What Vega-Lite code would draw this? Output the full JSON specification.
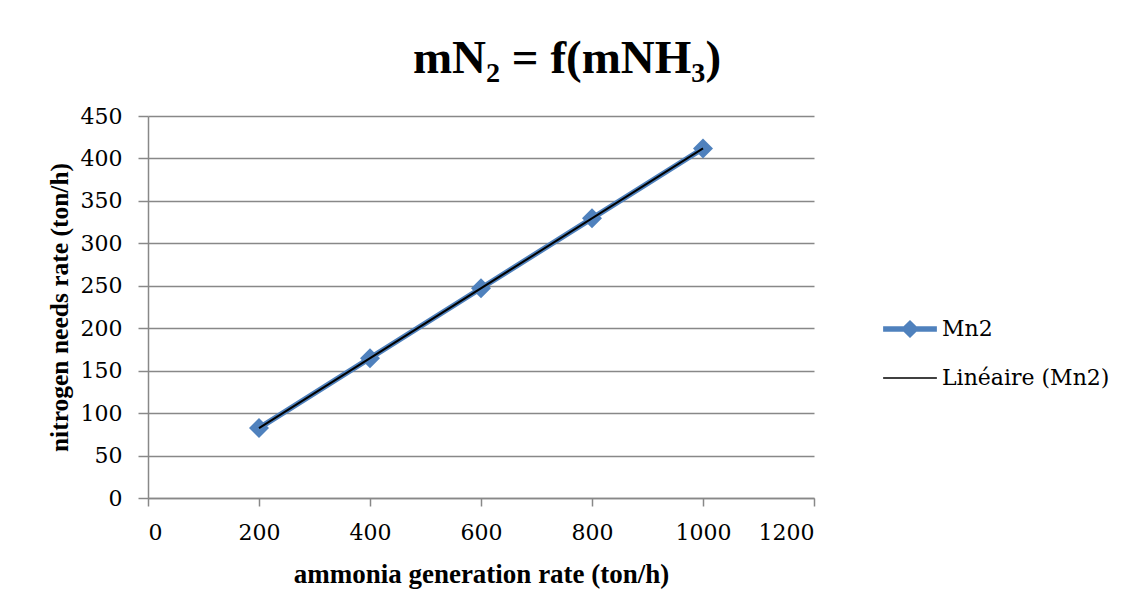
{
  "$schema": "https://vega.github.io/schema/vega-lite/v6.json",
  "width": 666,
  "height": 382,
  "autosize": {"type": "none"},
  "padding": {"left": 148, "top": 116, "right": 317, "bottom": 114},
  "background": "white",
  "title": {
    "text": "mN₂ = f(mNH₃)",
    "font": "Liberation Serif",
    "fontSize": 47,
    "fontWeight": "bold",
    "color": "black",
    "anchor": "middle",
    "frame": "group",
    "baseline": "alphabetic",
    "dx": 86,
    "offset": -15
  },
  "data": {
    "values": [
      {"ammonia": 200, "nitrogen": 82.35},
      {"ammonia": 400, "nitrogen": 164.7},
      {"ammonia": 600, "nitrogen": 247.06},
      {"ammonia": 800, "nitrogen": 329.41},
      {"ammonia": 1000, "nitrogen": 411.76}
    ]
  },
  "encoding": {
    "x": {
      "field": "ammonia",
      "type": "quantitative",
      "scale": {"domain": [0, 1200], "nice": false},
      "axis": {
        "title": "ammonia generation rate (ton/h)",
        "titleFontSize": 27,
        "values": [0, 200, 400, 600, 800, 1000, 1200],
        "format": "d",
        "grid": false,
        "tickSize": 8,
        "labelPadding": 16,
        "titlePadding": 18
      }
    },
    "y": {
      "field": "nitrogen",
      "type": "quantitative",
      "scale": {"domain": [0, 450], "nice": false},
      "axis": {
        "title": "nitrogen needs rate (ton/h)",
        "titleFontSize": 25.5,
        "values": [0, 50, 100, 150, 200, 250, 300, 350, 400, 450],
        "format": "d",
        "grid": true,
        "tickSize": 10,
        "labelPadding": 16,
        "titlePadding": 8
      }
    }
  },
  "layer": [
    {
      "mark": {"type": "line", "strokeWidth": 5.5, "strokeCap": "round"},
      "encoding": {
        "color": {
          "datum": "Mn2",
          "type": "nominal",
          "scale": {"domain": ["Mn2", "Linéaire (Mn2)"], "range": ["#4F81BD", "#000000"]},
          "legend": {
            "title": null,
            "orient": "none",
            "legendX": 738,
            "legendY": 189,
            "direction": "vertical",
            "symbolSize": 2304,
            "rowPadding": 14,
            "labelOffset": 8,
            "labelFont": "DejaVu Serif",
            "labelFontSize": 22,
            "labelColor": "black",
            "labelLimit": 300,
            "encode": {
              "symbols": {
                "update": {
                  "shape": {"signal": "datum.value === 'Mn2' ? 'M-1.12,-0.11H-0.265L0,-0.375L0.265,-0.11H1.12V0.11H0.265L0,0.375L-0.265,0.11H-1.12Z' : 'M-1.12,-0.032H1.12V0.032H-1.12Z'"},
                  "fill": {"signal": "datum.value === 'Mn2' ? '#4F81BD' : '#000000'"},
                  "fillOpacity": {"value": 1},
                  "opacity": {"value": 1},
                  "strokeWidth": {"value": 0},
                  "stroke": {"value": "transparent"}
                }
              }
            }
          }
        }
      }
    },
    {
      "mark": {"type": "point", "shape": "diamond", "filled": true, "size": 400, "opacity": 1},
      "encoding": {
        "color": {"datum": "Mn2", "type": "nominal"}
      }
    },
    {
      "transform": [{"regression": "nitrogen", "on": "ammonia"}],
      "mark": {"type": "line", "strokeWidth": 2},
      "encoding": {
        "color": {"datum": "Linéaire (Mn2)", "type": "nominal"}
      }
    }
  ],
  "config": {
    "view": {"stroke": null},
    "axis": {
      "domainColor": "#888888",
      "domainWidth": 1.5,
      "tickColor": "#888888",
      "tickWidth": 1.5,
      "gridColor": "#888888",
      "gridWidth": 1.5,
      "labelFont": "DejaVu Serif",
      "labelFontSize": 22,
      "labelColor": "black",
      "titleFont": "Liberation Serif",
      "titleFontWeight": "bold",
      "titleColor": "black"
    }
  }
}
